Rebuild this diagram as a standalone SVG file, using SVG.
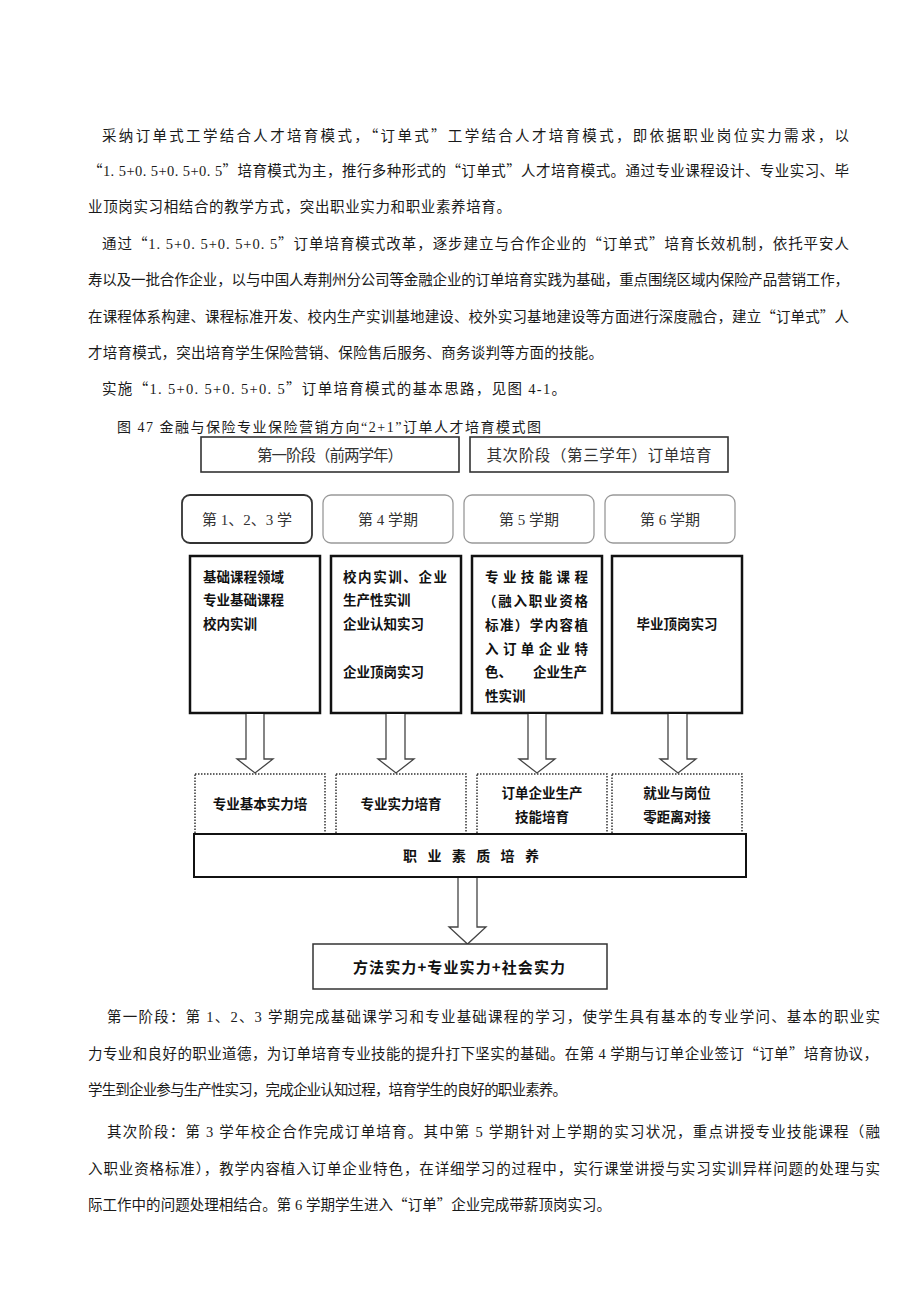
<svg xmlns="http://www.w3.org/2000/svg" width="920" height="1301" viewBox="0 0 920 1301">
<style>
.body{font-family:"Liberation Serif","Noto Sans CJK SC",serif;font-size:14.5px;fill:#1a1a1a}
.cap{font-family:"Liberation Serif","Noto Sans CJK SC",serif;font-size:14px;fill:#1a1a1a}
.q{font-family:"Noto Sans CJK SC",sans-serif}
.hdr{font-family:"Liberation Serif","Noto Sans CJK SC",serif;font-size:15.5px;fill:#333;text-anchor:middle}
.sem{font-family:"Liberation Serif","Noto Sans CJK SC",serif;font-size:15px;fill:#333;text-anchor:middle}
.bt{font-family:"Noto Sans CJK SC",sans-serif;font-size:13.5px;font-weight:bold;fill:#111}
.btc{font-family:"Noto Sans CJK SC",sans-serif;font-size:13.5px;font-weight:bold;fill:#111;text-anchor:middle}
.hbox{fill:#fff;stroke:#333;stroke-width:1.6}
.semA{fill:#fff;stroke:#333;stroke-width:1.8}
.semB{fill:#fff;stroke:#999;stroke-width:1.3}
.cbox{fill:#fff;stroke:#111;stroke-width:2.5}
.dbox{fill:#fff;stroke:#333;stroke-width:1.5;stroke-dasharray:1.5 1.5}
.qbox{fill:#fff;stroke:#111;stroke-width:2}
.arr{fill:#fff;stroke:#444;stroke-width:1.3}
</style>

<g id="text-top">
<text class="body" x="102" y="140.5" textLength="747" lengthAdjust="spacing">采纳订单式工学结合人才培育模式，<tspan class="q">“</tspan>订单式<tspan class="q">”</tspan>工学结合人才培育模式，即依据职业岗位实力需求，以</text>
<text class="body" x="88" y="175.5" textLength="761" lengthAdjust="spacing"><tspan class="q">“</tspan>1. 5+0. 5+0. 5+0. 5<tspan class="q">”</tspan>培育模式为主，推行多种形式的<tspan class="q">“</tspan>订单式<tspan class="q">”</tspan>人才培育模式。通过专业课程设计、专业实习、毕</text>
<text class="body" x="88" y="211.5" textLength="423" lengthAdjust="spacing">业顶岗实习相结合的教学方式，突出职业实力和职业素养培育。</text>
<text class="body" x="102" y="248.5" textLength="747" lengthAdjust="spacing">通过<tspan class="q">“</tspan>1. 5+0. 5+0. 5+0. 5<tspan class="q">”</tspan>订单培育模式改革，逐步建立与合作企业的<tspan class="q">“</tspan>订单式<tspan class="q">”</tspan>培育长效机制，依托平安人</text>
<text class="body" x="88" y="284.5" textLength="761" lengthAdjust="spacing">寿以及一批合作企业，以与中国人寿荆州分公司等金融企业的订单培育实践为基础，重点围绕区域内保险产品营销工作，</text>
<text class="body" x="88" y="321.5" textLength="761" lengthAdjust="spacing">在课程体系构建、课程标准开发、校内生产实训基地建设、校外实习基地建设等方面进行深度融合，建立<tspan class="q">“</tspan>订单式<tspan class="q">”</tspan>人</text>
<text class="body" x="88" y="357.5" textLength="515" lengthAdjust="spacing">才培育模式，突出培育学生保险营销、保险售后服务、商务谈判等方面的技能。</text>
<text class="body" x="102" y="393.5" textLength="464" lengthAdjust="spacing">实施<tspan class="q">“</tspan>1. 5+0. 5+0. 5+0. 5<tspan class="q">”</tspan>订单培育模式的基本思路，见图 4-1。</text>
<text class="cap" x="117" y="432" textLength="424" lengthAdjust="spacing">图 47 金融与保险专业保险营销方向“2+1”订单人才培育模式图</text>
</g>

<g id="stage1"><rect class="hbox" x="201" y="437" width="258" height="35"/><text class="hdr" x="330" y="460.5" textLength="146" lengthAdjust="spacing">第一阶段（前两学年）</text></g>
<g id="stage2"><rect class="hbox" x="470" y="437" width="258" height="35"/><text class="hdr" x="599" y="460.5" textLength="225" lengthAdjust="spacing">其次阶段（第三学年）订单培育</text></g>

<g id="sem1"><rect class="semA" x="182" y="495" width="130" height="48" rx="8"/><text class="sem" x="247" y="524.5">第 1、2、3 学</text></g>
<g id="sem2"><rect class="semB" x="323" y="495" width="130" height="48" rx="8"/><text class="sem" x="388" y="524.5">第 4 学期</text></g>
<g id="sem3"><rect class="semB" x="464" y="495" width="130" height="48" rx="8"/><text class="sem" x="529" y="524.5">第 5 学期</text></g>
<g id="sem4"><rect class="semB" x="605" y="495" width="130" height="48" rx="8"/><text class="sem" x="670" y="524.5">第 6 学期</text></g>

<g id="content1"><rect class="cbox" x="190" y="556" width="130" height="157"/>
<text class="bt" x="203" y="582">基础课程领域</text>
<text class="bt" x="203" y="605">专业基础课程</text>
<text class="bt" x="203" y="629">校内实训</text></g>
<g id="content2"><rect class="cbox" x="331" y="556" width="130" height="157"/>
<text class="bt" x="343" y="582" textLength="104" lengthAdjust="spacing">校内实训、企业</text>
<text class="bt" x="343" y="605">生产性实训</text>
<text class="bt" x="343" y="629">企业认知实习</text>
<text class="bt" x="343" y="677">企业顶岗实习</text></g>
<g id="content3"><rect class="cbox" x="472" y="556" width="130" height="157"/>
<text class="bt" x="485" y="582" textLength="103" lengthAdjust="spacing">专业技能课程</text>
<text class="bt" x="483" y="606" textLength="105" lengthAdjust="spacing">（融入职业资格</text>
<text class="bt" x="485" y="630" textLength="103" lengthAdjust="spacing">标准）学内容植</text>
<text class="bt" x="485" y="654" textLength="103" lengthAdjust="spacing">入订单企业特</text>
<text class="bt" x="485" y="677">色、</text>
<text class="bt" x="533" y="677">企业生产</text>
<text class="bt" x="485" y="701">性实训</text></g>
<g id="content4"><rect class="cbox" x="612" y="556" width="130" height="157"/>
<text class="btc" x="677" y="629">毕业顶岗实习</text></g>

<g id="connectors">
<path class="arr" d="M246,714 V759 H237 L255,773 L273,759 H264 V714"/>
<path class="arr" d="M386,714 V759 H378 L396,773 L414,759 H405 V714"/>
<path class="arr" d="M528,714 V759 H519 L537,773 L555,759 H546 V714"/>
<path class="arr" d="M668,714 V759 H660 L678,773 L696,759 H687 V714"/>
<path class="arr" d="M458,878 V927 H449 L467.5,944 L486,927 H477 V878"/>
</g>

<g id="outcome1"><rect class="dbox" x="195" y="774" width="130" height="60"/><text class="btc" x="260" y="809">专业基本实力培</text></g>
<g id="outcome2"><rect class="dbox" x="336" y="774" width="130" height="60"/><text class="btc" x="401" y="809">专业实力培育</text></g>
<g id="outcome3"><rect class="dbox" x="477" y="774" width="130" height="60"/><text class="btc" x="542" y="798">订单企业生产</text><text class="btc" x="542" y="822">技能培育</text></g>
<g id="outcome4"><rect class="dbox" x="612" y="774" width="130" height="60"/><text class="btc" x="677" y="798">就业与岗位</text><text class="btc" x="677" y="822">零距离对接</text></g>

<g id="quality"><rect class="qbox" x="194" y="834" width="552" height="43"/><text class="bt" x="403" y="861" style="font-size:14px" textLength="136" lengthAdjust="spacing">职业素质培养</text></g>

<g id="result"><rect class="qbox" x="313" y="944" width="294" height="45" style="stroke-width:1.5;stroke:#333"/><text class="bt" x="353" y="973" style="font-size:15px" textLength="212" lengthAdjust="spacing">方法实力+专业实力+社会实力</text></g>

<g id="text-bottom">
<text class="body" x="107" y="1021.5" textLength="773" lengthAdjust="spacing">第一阶段：第 1、2、3 学期完成基础课学习和专业基础课程的学习，使学生具有基本的专业学问、基本的职业实</text>
<text class="body" x="88" y="1058.5" textLength="790" lengthAdjust="spacing">力专业和良好的职业道德，为订单培育专业技能的提升打下坚实的基础。在第 4 学期与订单企业签订<tspan class="q">“</tspan>订单<tspan class="q">”</tspan>培育协议，</text>
<text class="body" x="88" y="1094.5" textLength="479" lengthAdjust="spacing">学生到企业参与生产性实习，完成企业认知过程，培育学生的良好的职业素养。</text>
<text class="body" x="107" y="1136.5" textLength="773" lengthAdjust="spacing">其次阶段：第 3 学年校企合作完成订单培育。其中第 5 学期针对上学期的实习状况，重点讲授专业技能课程（融</text>
<text class="body" x="88" y="1173.5" textLength="792" lengthAdjust="spacing">入职业资格标准），教学内容植入订单企业特色，在详细学习的过程中，实行课堂讲授与实习实训异样问题的处理与实</text>
<text class="body" x="88" y="1209.5" textLength="523" lengthAdjust="spacing">际工作中的问题处理相结合。第 6 学期学生进入<tspan class="q">“</tspan>订单<tspan class="q">”</tspan>企业完成带薪顶岗实习。</text>
</g>
</svg>
